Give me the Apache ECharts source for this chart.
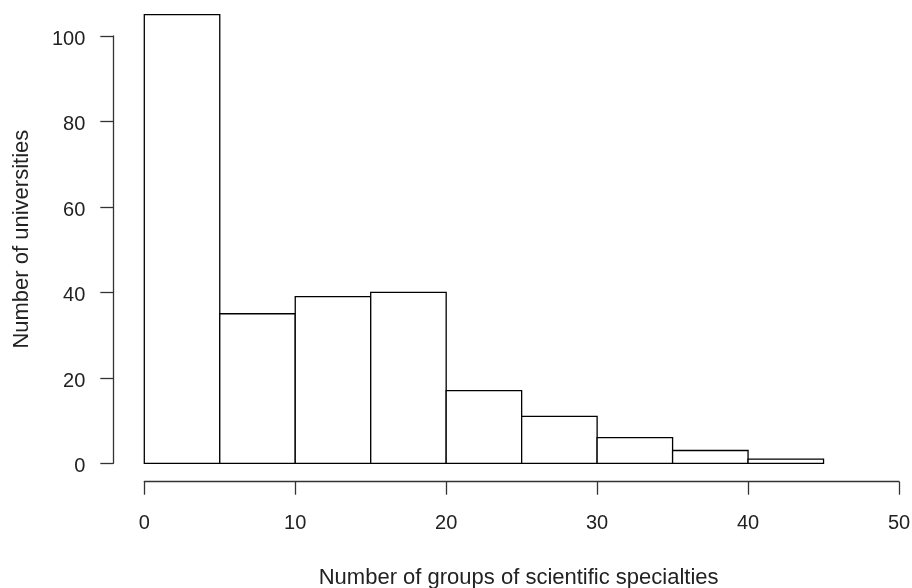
<!DOCTYPE html>
<html>
<head>
<meta charset="utf-8">
<script src="https://cdn.jsdelivr.net/npm/echarts@6/dist/echarts.min.js"></script>
<style>
html,body{margin:0;padding:0;background:#fff;}
#chart{width:912px;height:588px;}
</style>
</head>
<body>
<div id="chart"></div>
<script>
// Histogram bins (left edge, right edge) and counts
var binStarts = [0, 5, 10, 15, 20, 25, 30, 35, 40];
var binEnds   = [5, 10, 15, 20, 25, 30, 35, 40, 45];
var counts    = [105, 35, 39, 40, 17, 11, 6, 3, 1];
var xTicks = [0, 10, 20, 30, 40, 50];
var yTicks = [0, 20, 40, 60, 80, 100];
var xTitle = 'Number of groups of scientific specialties';
var yTitle = 'Number of universities';

var data = binStarts.map(function (s, i) { return [s, binEnds[i], counts[i]]; });

var font = 'Liberation Sans, Arial, sans-serif';
var chart = echarts.init(document.getElementById('chart'), null, {renderer: 'canvas', width: 912, height: 588});
chart.setOption({
  animation: false,
  backgroundColor: '#fff',
  grid: {left: 144.3, width: 754.7, top: 36, height: 427.3, containLabel: false, outerBoundsMode: 'none'},
  xAxis: {
    type: 'value', min: xTicks[0], max: xTicks[xTicks.length - 1], interval: 10,
    offset: 18.4,
    axisLine: {show: true, onZero: false, lineStyle: {color: '#333', width: 1.3}},
    axisTick: {show: true, inside: false, length: 13, lineStyle: {color: '#333', width: 1.3}},
    axisLabel: {show: true, margin: 32, fontSize: 20, color: '#222', fontFamily: font},
    splitLine: {show: false},
    name: xTitle, nameLocation: 'middle', nameGap: 85,
    nameTextStyle: {fontSize: 22, color: '#222', fontFamily: font, padding: [0, 6, 0, 0]}
  },
  yAxis: {
    type: 'value', min: yTicks[0], max: yTicks[yTicks.length - 1], interval: 20,
    offset: 31,
    axisLine: {show: true, onZero: false, lineStyle: {color: '#333', width: 1.3}},
    axisTick: {show: true, inside: false, length: 13, lineStyle: {color: '#333', width: 1.3}},
    axisLabel: {show: true, margin: 28, fontSize: 20, color: '#222', fontFamily: font, verticalAlign: 'top', lineHeight: 7},
    splitLine: {show: false},
    name: yTitle, nameLocation: 'middle', nameGap: 80, nameRotate: 90,
    nameTextStyle: {fontSize: 22, color: '#222', fontFamily: font, padding: [0, 0, 0, 21]}
  },
  series: [{
    type: 'custom',
    clip: false,
    data: data,
    renderItem: function (params, api) {
      var p0 = api.coord([api.value(0), api.value(2)]);
      var p1 = api.coord([api.value(1), 0]);
      return {
        type: 'rect',
        shape: {x: p0[0], y: p0[1], width: p1[0] - p0[0], height: p1[1] - p0[1]},
        style: {fill: '#fff', stroke: '#000', lineWidth: 1.3}
      };
    }
  }]
});
</script>
</body>
</html>
